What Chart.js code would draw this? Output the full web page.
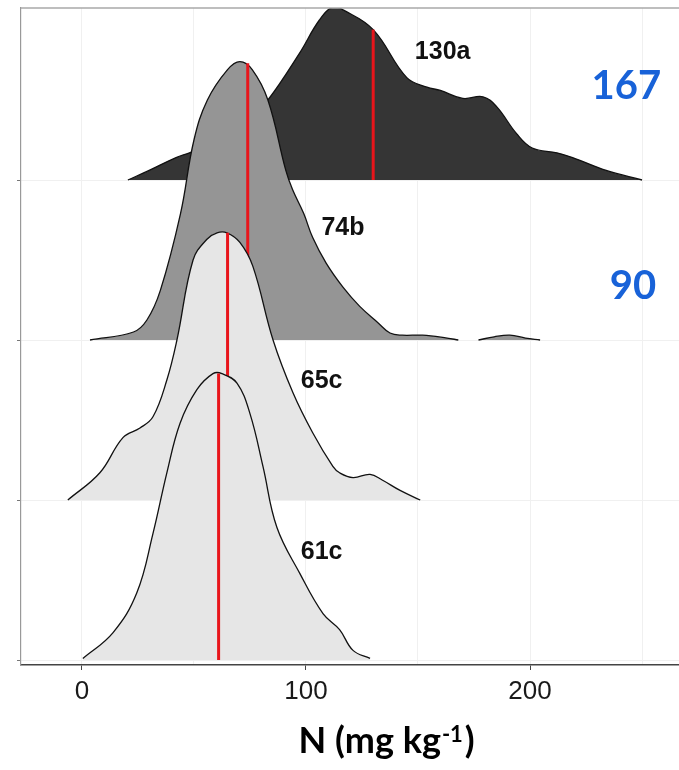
<!DOCTYPE html>
<html>
<head>
<meta charset="utf-8">
<script src="https://cdn.jsdelivr.net/npm/chart.js@4.4.0/dist/chart.umd.min.js"></script>
<style>
  html, body { margin: 0; padding: 0; background: #fff; }
  #wrap { width: 679px; height: 770px; }
</style>
</head>
<body>
<div id="wrap"><canvas id="ridges" width="679" height="770"></canvas></div>
<script>
// groups from top to bottom, baseline = ridge position on y axis
const groups = ['130a', '74b', '65c', '61c'];
const baselines = [3, 2, 1, 0];
const medians = [130, 74, 65, 61];
const medianTops = [0.94, 1.73, 1.67, 1.79];
const fills = ['#353535', '#959595', '#e6e6e6', '#e6e6e6'];

// density curves (x = N mg/kg, h = height in ridge units)
const n130x = [20.5, 30, 42, 48, 62, 75, 83, 97, 106, 112, 117, 130, 145, 154, 160, 170, 179, 185, 194, 201, 212, 219, 234, 250];
const n130h = [0, 0.06, 0.14, 0.17, 0.25, 0.39, 0.50, 0.79, 1.00, 1.08, 1.06, 0.94, 0.64, 0.58, 0.56, 0.51, 0.52, 0.46, 0.29, 0.20, 0.17, 0.14, 0.06, 0];

const n74x = [3.6, 23, 29, 35, 44, 50, 56, 65, 70.5, 76, 83, 91, 94, 99, 103, 109, 116.5, 124, 132, 137.5, 143, 152, 163, 168, 172, 177, 184, 191, 198, 204.5];
const n74h = [0, 0.05, 0.125, 0.31, 0.79, 1.25, 1.50, 1.69, 1.74, 1.69, 1.50, 1.06, 0.94, 0.79, 0.64, 0.48, 0.33, 0.21, 0.11, 0.044, 0.03, 0.03, 0.012, 0, null, 0, 0.02, 0.03, 0.012, 0];

const n65x = [-6.3, 8, 18.3, 25.9, 31.7, 37.9, 42.4, 49.6, 55.8, 60.3, 64.7, 70.5, 76.3, 85.3, 94.2, 103, 112, 115, 121, 128.6, 134, 142, 151];
const n65h = [0, 0.17, 0.39, 0.45, 0.52, 0.75, 1.00, 1.50, 1.63, 1.67, 1.67, 1.61, 1.46, 1.00, 0.67, 0.42, 0.21, 0.17, 0.14, 0.16, 0.125, 0.06, 0];

const n61x = [0.4, 13.8, 24.5, 31.7, 37.9, 43.8, 51.3, 58.5, 62.5, 69.2, 75, 80.8, 87, 97.3, 107.6, 115, 121, 128.6];
const n61h = [0.01, 0.17, 0.42, 0.79, 1.17, 1.48, 1.69, 1.79, 1.79, 1.73, 1.54, 1.21, 0.83, 0.54, 0.29, 0.19, 0.06, 0.01];

const curveX = [n130x, n74x, n65x, n61x];
const curveH = [n130h, n74h, n65h, n61h];

const xTicks = [0, 50, 100, 150, 200, 250];
const yTicks = [0, 1, 2, 3];

// text annotations
const labelX = [161, 116.5, 107, 107];
const labelY = [3.8, 2.7, 1.74, 0.675];
const sideNums = ['167', '90'];
const sideNumX = [243, 246];
const sideNumY = [3.59, 2.34];
const axisTitleCenter = 136;

const datasets = [];
groups.forEach((g, i) => {
  const base = baselines[i];
  datasets.push({
    label: g,
    data: curveX[i].map((x, j) => ({ x, y: curveH[i][j] === null ? null : base + curveH[i][j] })),
    borderColor: '#111',
    borderWidth: 1.3,
    backgroundColor: fills[i],
    fill: { value: base },
    pointRadius: 0,
    tension: 0.4,
    spanGaps: false,
    order: 8 - i * 2
  });
  datasets.push({
    label: g + ' median',
    data: [{ x: medians[i], y: base }, { x: medians[i], y: base + medianTops[i] }],
    borderColor: '#e8151b',
    borderWidth: 3,
    fill: false,
    pointRadius: 0,
    order: 7 - i * 2
  });
});

const textPlugin = {
  id: 'ridgeText',
  afterDraw(chart) {
    const { ctx, chartArea, scales: { x, y } } = chart;
    ctx.save();
    // top panel border
    ctx.strokeStyle = '#a8a8a8';
    ctx.lineWidth = 1.5;
    ctx.beginPath();
    ctx.moveTo(chartArea.left, chartArea.top);
    ctx.lineTo(chartArea.right, chartArea.top);
    ctx.stroke();

    ctx.textAlign = 'center';
    ctx.textBaseline = 'middle';
    ctx.fillStyle = '#111';
    ctx.font = 'bold 25px "Liberation Sans", Arial, sans-serif';
    groups.forEach((g, i) => {
      ctx.fillText(g, x.getPixelForValue(labelX[i]), y.getPixelForValue(labelY[i]));
    });

    ctx.fillStyle = '#1862d8';
    ctx.font = 'bold 40px Lato, "Open Sans", sans-serif';
    sideNums.forEach((t, i) => {
      ctx.fillText(t, x.getPixelForValue(sideNumX[i]), y.getPixelForValue(sideNumY[i]));
    });

    // axis title with superscript
    ctx.fillStyle = '#000';
    ctx.textAlign = 'left';
    ctx.textBaseline = 'alphabetic';
    const mainFont = 'bold 36px Lato, "Open Sans", sans-serif';
    const supFont = 'bold 22px Lato, "Open Sans", sans-serif';
    ctx.font = mainFont;
    const w1 = ctx.measureText('N (mg kg').width;
    const w3 = ctx.measureText(')').width;
    ctx.font = supFont;
    const w2 = ctx.measureText('-1').width;
    const left = x.getPixelForValue(axisTitleCenter) - (w1 + w2 + w3 + 3) / 2;
    const baseY = 753;
    ctx.font = mainFont;
    ctx.fillText('N (mg kg', left, baseY);
    ctx.font = supFont;
    ctx.fillText('-1', left + w1 + 1, baseY - 11);
    ctx.font = mainFont;
    ctx.fillText(')', left + w1 + w2 + 3, baseY);
    ctx.restore();
  }
};

new Chart(document.getElementById('ridges'), {
  type: 'line',
  data: { datasets },
  options: {
    responsive: false,
    animation: false,
    layout: { padding: { top: 8, left: 0, right: 0, bottom: 0 } },
    plugins: {
      legend: { display: false },
      tooltip: { enabled: false },
      filler: { drawTime: 'beforeDatasetDraw' }
    },
    scales: {
      x: {
        type: 'linear',
        min: -27.2,
        max: 266.5,
        afterBuildTicks: s => { s.ticks = xTicks.map(v => ({ value: v })); },
        afterFit: s => { s.height = 105; },
        ticks: {
          padding: 6,
          color: '#1a1a1a',
          font: { family: '"Liberation Sans", Arial, sans-serif', size: 26 },
          callback: v => (v % 100 === 0 ? String(v) : '')
        },
        grid: {
          color: '#f0f0f0',
          tickLength: 5,
          tickColor: c => (c.tick && c.tick.value % 100 === 0 ? '#444' : 'rgba(0,0,0,0)')
        },
        border: { color: '#444', width: 1.5 }
      },
      y: {
        type: 'linear',
        min: -0.03125,
        max: 4.075,
        afterBuildTicks: s => { s.ticks = yTicks.map(v => ({ value: v })); },
        afterFit: s => { s.width = 21; },
        ticks: { display: false },
        grid: { color: '#f0f0f0', tickLength: 4, tickColor: '#777' },
        border: { color: '#999', width: 1.2 }
      }
    }
  },
  plugins: [textPlugin]
});
</script>
</body>
</html>
